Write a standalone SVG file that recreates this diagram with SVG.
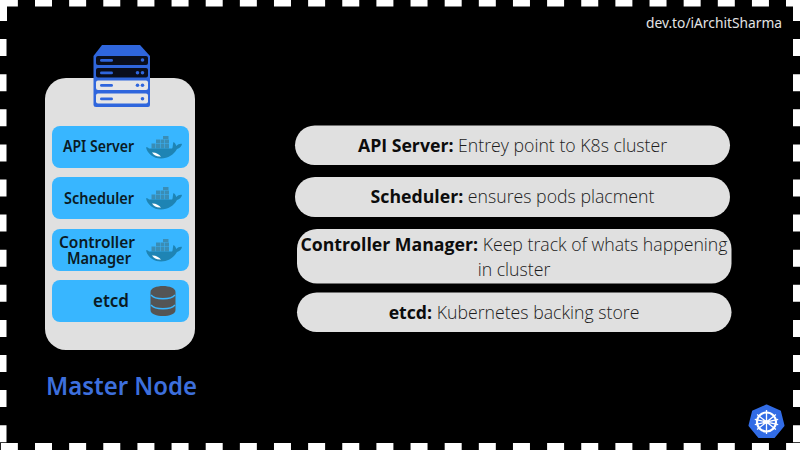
<svg xmlns="http://www.w3.org/2000/svg" width="800" height="450" viewBox="0 0 800 450">
<style>
.bd{stroke:#fff;stroke-width:7;fill:none}
.card{fill:#e0e0e0}
.box{fill:#38b6ff}
.pill{fill:#e0e0e0}
.lab{font-family:"Noto Sans","Open Sans",sans-serif;font-weight:600;font-size:16px;fill:#0a1a24;text-anchor:middle}
.t{font-family:"Open Sans","Noto Sans",sans-serif;font-size:17.7px;font-weight:300;fill:#1c1c1c;text-anchor:middle}
.t .b{font-weight:700;fill:#0c0c0c}
</style>
<defs>
<symbol id="whale" viewBox="0 0 36 23" overflow="visible">
<g fill="#3a8db5">
<rect x="5.500" y="7.500" width="4" height="5"/><rect x="10" y="7.500" width="4" height="5"/><rect x="14.500" y="7.500" width="4" height="5"/><rect x="19" y="7.500" width="4" height="5"/>
<rect x="10" y="3.500" width="4" height="3.600"/><rect x="14.500" y="3.500" width="4" height="3.600"/><rect x="19" y="3.500" width="4" height="3.600"/>
<rect x="17" y="0" width="5.500" height="3.200"/>
</g>
<path d="M0 11.500C1 11 2 11.500 3 12.500H26C27 12 26.500 9 27.500 6C29 7 30 8.500 30.300 10C32 8.500 34 7.500 36 8C35.500 10.500 33.500 12.500 31 13C28 18.500 22 22.500 15 22.500C7 22.500 1.500 17.500 0 11.500Z" fill="#1e84b4"/>
<path d="M6 16.500C9 16 13 18 15 20.500C11 21 8 19.300 6 16.500Z" fill="#fff"/>
</symbol>
</defs>
<rect width="800" height="450" fill="#000"/>
<g id="border">
<path class="bd" d="M0 3H800" stroke-dasharray="17 17.140" stroke-dashoffset="-0.860"/>
<path class="bd" d="M0 446.500H800" stroke-dasharray="17 17.140" stroke-dashoffset="-0.860"/>
<path class="bd" d="M3 0V450" stroke-dasharray="17 18.100" stroke-dashoffset="-4"/>
<path class="bd" d="M796.500 0V450" stroke-dasharray="17 18.100" stroke-dashoffset="-4"/>
<rect x="0" y="0" width="7" height="21" fill="#fff"/>
<rect x="0" y="0" width="16" height="6" fill="#fff"/>
<rect x="793" y="0" width="7" height="21" fill="#fff"/>
<rect x="786" y="0" width="14" height="6" fill="#fff"/>
</g>
<text id="credit" x="714" y="27.500" font-family="'Noto Sans','Open Sans',sans-serif" font-size="14px" fill="#e4e4e4" text-anchor="middle" textLength="136" lengthAdjust="spacingAndGlyphs">dev.to/iArchitSharma</text>
<g id="master-card"><rect class="card" x="45" y="78" width="150" height="272" rx="21"/></g>
<g id="server-icon">
<path d="M93.500 56L102 45H140L150 56V105Q150 107 148 107H96Q93.500 107 93.500 105Z" fill="#2f66dd"/>
<rect x="96" y="56" width="52" height="9" rx="2" fill="#0a0e1c"/>
<rect x="96" y="68" width="52" height="9.500" rx="2" fill="#0a0e1c"/>
<rect x="96" y="80.500" width="52" height="9.500" rx="2" fill="#e6e6e6"/>
<rect x="96" y="93.500" width="52" height="10" rx="2" fill="#e6e6e6"/>
<g fill="#2f66dd">
<rect x="100" y="59" width="13" height="2.800" rx="1.400"/><rect x="100" y="71.500" width="13" height="2.800" rx="1.400"/><rect x="100" y="84" width="13" height="2.800" rx="1.400"/><rect x="100" y="97.500" width="13" height="2.800" rx="1.400"/>
<circle cx="142.500" cy="60" r="1.800"/><circle cx="137.500" cy="72.800" r="1.800"/><circle cx="142.500" cy="72.800" r="1.800"/><circle cx="137.500" cy="85.300" r="1.800"/><circle cx="142.500" cy="85.300" r="1.800"/><circle cx="142.500" cy="98.800" r="1.800"/>
</g>
</g>
<g id="api-server">
<rect class="box" x="52" y="126" width="137" height="42" rx="8"/>
<text class="lab" x="98.500" y="152" textLength="71" lengthAdjust="spacingAndGlyphs">API Server</text>
<use href="#whale" x="146" y="136" width="36" height="23"/>
</g>
<g id="scheduler">
<rect class="box" x="52" y="177" width="137" height="42" rx="8"/>
<text class="lab" x="99" y="204" textLength="70" lengthAdjust="spacingAndGlyphs">Scheduler</text>
<use href="#whale" x="146" y="187" width="36" height="23"/>
</g>
<g id="controller-manager">
<rect class="box" x="52" y="229" width="137" height="42" rx="8"/>
<text class="lab" x="97" y="247.500" textLength="76" lengthAdjust="spacingAndGlyphs">Controller</text>
<text class="lab" x="99" y="264" textLength="64" lengthAdjust="spacingAndGlyphs">Manager</text>
<use href="#whale" x="146" y="239" width="36" height="23"/>
</g>
<g id="etcd">
<rect class="box" x="52" y="280" width="137" height="42" rx="8"/>
<text class="lab" x="111" y="307" style="font-size:17px">etcd</text>
<g id="db-icon">
<path d="M150.500 292C150.500 284 175.500 284 175.500 292V310C175.500 318 150.500 318 150.500 310Z" fill="#545454"/>
<path d="M151 295C155 300 171 300 175 295M151 305C155 310 171 310 175 305" fill="none" stroke="#38b6ff" stroke-width="1.300"/>
</g>
</g>
<text id="master-title" x="121.500" y="395" font-family="'Noto Sans','Open Sans',sans-serif" font-weight="600" font-size="25px" fill="#3d6fdc" text-anchor="middle" textLength="151" lengthAdjust="spacingAndGlyphs">Master Node</text>
<g id="desc-api">
<rect class="pill" x="295" y="125.500" width="435" height="39.500" rx="19.750"/>
<text class="t" x="512.500" y="152"><tspan class="b">API Server:</tspan> Entrey point to K8s cluster</text>
</g>
<g id="desc-scheduler">
<rect class="pill" x="295" y="177" width="435" height="40" rx="20"/>
<text class="t" x="512.500" y="203"><tspan class="b">Scheduler:</tspan> ensures pods placment</text>
</g>
<g id="desc-controller">
<rect class="pill" x="297" y="229" width="434.500" height="54.500" rx="20"/>
<text class="t" x="514" y="251"><tspan class="b">Controller Manager:</tspan> Keep track of whats happening</text>
<text class="t" x="514" y="275.500">in cluster</text>
</g>
<g id="desc-etcd">
<rect class="pill" x="297" y="292.500" width="434.500" height="39.500" rx="19.750"/>
<text class="t" x="514" y="319"><tspan class="b">etcd:</tspan> Kubernetes backing store</text>
</g>
<g id="k8s-logo">
<path d="M766.500 405.500L780 411.500L783.500 425.500L774 437H759L749.500 425.500L753 411.500Z" fill="#326ce5" stroke="#326ce5" stroke-width="2" stroke-linejoin="round"/>
<circle cx="766.500" cy="422" r="9.500" fill="none" stroke="#fff" stroke-width="2.200"/>
<circle cx="766.500" cy="422" r="2" fill="#fff"/>
<path d="M766.500 410V434M757.100 414.500L775.900 429.500M775.900 414.500L757.100 429.500M754.800 424.700L778.200 419.300M778.200 424.700L754.800 419.300" stroke="#fff" stroke-width="1.300" fill="none"/>
</g>
</svg>
